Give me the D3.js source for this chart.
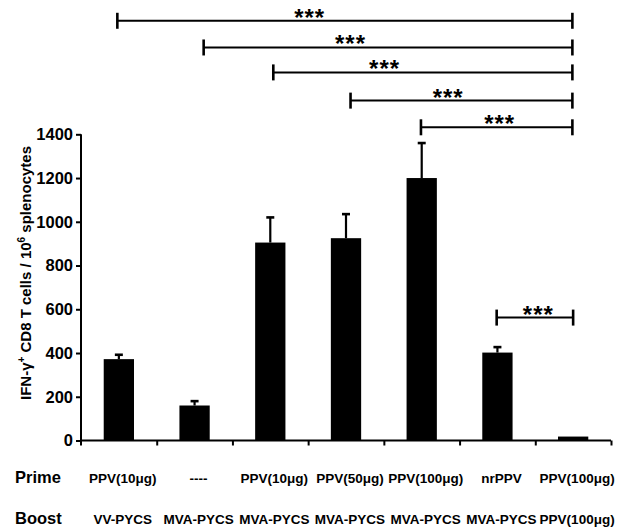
<!DOCTYPE html>
<html>
<head>
<meta charset="utf-8">
<script src="https://cdn.jsdelivr.net/npm/d3@7/dist/d3.min.js"></script>
<style>
  html, body { margin: 0; padding: 0; background: #fff; }
  svg { display: block; font-family: "Liberation Sans", Arial, sans-serif; font-weight: bold; }
</style>
</head>
<body>
<svg id="chart" width="621" height="528"></svg>
<script>
// Prime / boost regimen for each group
const prime = ["PPV(10μg)", "----", "PPV(10μg)", "PPV(50μg)", "PPV(100μg)", "nrPPV", "PPV(100μg)"];
const boost = ["VV-PYCS", "MVA-PYCS", "MVA-PYCS", "MVA-PYCS", "MVA-PYCS", "MVA-PYCS", "PPV(100μg)"];

// IFN-γ+ CD8 T cells per 10^6 splenocytes (mean and SEM)
const means = [372, 160, 905, 925, 1200, 402, 18];
const sem = [20, 20, 115, 110, 160, 25, 0];

const yTicks = [0, 200, 400, 600, 800, 1000, 1200, 1400];

// Significance brackets: start/end in group units (0 = left edge of first group),
// bracket height in y units, and where the stars sit along the bracket
const bracketFrom = [0.48, 1.62, 2.54, 3.56, 4.49, 5.49];
const bracketTo = [6.49, 6.49, 6.49, 6.49, 6.49, 6.5];
const bracketLevel = [1919, 1797, 1683, 1554, 1432, 562];
const bracketStarAt = [3.02, 3.56, 4.01, 4.85, 5.53, 6.04];
const bracketLabel = ["***", "***", "***", "***", "***", "***"];

const svg = d3.select("#chart");
const plotLeft = 81, plotRight = 611, plotTop = 134.3, plotBottom = 440.5;
const groups = d3.range(prime.length);

const x = d3.scaleBand().domain(groups).range([plotLeft, plotRight])
  .paddingInner(0.6).paddingOuter(0.3);
const xPos = d3.scaleLinear().domain([0, groups.length]).range([plotLeft, plotRight]);
const y = d3.scaleLinear().domain([0, 1400]).range([plotBottom, plotTop]);

// Bars
svg.append("g").selectAll("rect").data(groups).join("rect")
  .attr("x", i => x(i))
  .attr("width", x.bandwidth())
  .attr("y", i => y(means[i]))
  .attr("height", i => y(0) - y(means[i]))
  .attr("fill", "#000");

// Upper error bars
const eb = svg.append("g").attr("stroke", "#000").attr("stroke-width", 2.2);
groups.filter(i => sem[i] > 0).forEach(i => {
  const cx = x(i) + x.bandwidth() / 2;
  eb.append("line").attr("x1", cx).attr("x2", cx)
    .attr("y1", y(means[i])).attr("y2", y(means[i] + sem[i]));
  eb.append("line").attr("x1", cx - 4).attr("x2", cx + 4)
    .attr("y1", y(means[i] + sem[i])).attr("y2", y(means[i] + sem[i]))
    .attr("stroke-width", 2.6);
});

// Y axis
const yAxis = svg.append("g").attr("transform", `translate(${plotLeft},0)`)
  .call(d3.axisLeft(y).tickValues(yTicks).tickSize(5).tickPadding(3).tickFormat(d3.format("d")));
yAxis.select(".domain").attr("d", `M0,${plotTop}V${plotBottom + 5}`).attr("stroke-width", 2);
yAxis.selectAll(".tick line").attr("stroke-width", 2);
yAxis.selectAll(".tick text").attr("font-size", 16.5).attr("font-family", "Liberation Sans, Arial, sans-serif")
  .attr("font-weight", "bold").attr("fill", "#000");

// X axis with ticks on group boundaries
const xAxis = svg.append("g").attr("transform", `translate(0,${plotBottom})`)
  .call(d3.axisBottom(xPos).tickValues(d3.range(1, groups.length + 1)).tickSize(5).tickFormat(""));
xAxis.select(".domain").attr("d", `M${plotLeft},0H${plotRight}`).attr("stroke-width", 2);
xAxis.selectAll(".tick line").attr("stroke-width", 2);

// Y axis title
const title = svg.append("text")
  .attr("transform", "translate(31,273) rotate(-90)")
  .attr("text-anchor", "middle")
  .attr("font-size", 15)
  .attr("fill", "#000");
title.append("tspan").text("IFN-γ");
title.append("tspan").attr("font-size", 10).attr("dy", -6).text("+");
title.append("tspan").attr("dy", 6).text(" CD8 T cells / 10");
title.append("tspan").attr("font-size", 10).attr("dy", -6).text("6");
title.append("tspan").attr("dy", 6).text(" splenocytes");

// Regimen rows
const rows = [["Prime", prime, 483], ["Boost", boost, 524]];
rows.forEach(([name, labels, yy]) => {
  svg.append("text").attr("x", 15).attr("y", yy).attr("font-size", 16.5).attr("fill", "#000").text(name);
  svg.append("g").selectAll("text").data(groups).join("text")
    .attr("x", i => x(i) + x.bandwidth() / 2 + 4)
    .attr("y", yy)
    .attr("text-anchor", "middle")
    .attr("font-size", 13.5)
    .attr("fill", "#000")
    .text(i => labels[i]);
});

// Significance brackets
const br = svg.append("g");
bracketFrom.forEach((f, k) => {
  const x1 = xPos(f), x2 = xPos(bracketTo[k]), yy = y(bracketLevel[k]);
  br.append("line").attr("x1", x1).attr("x2", x2).attr("y1", yy).attr("y2", yy)
    .attr("stroke", "#000").attr("stroke-width", 2);
  [x1, x2].forEach(xe => br.append("line").attr("x1", xe).attr("x2", xe)
    .attr("y1", yy - 8).attr("y2", yy + 8).attr("stroke", "#000").attr("stroke-width", 2.6));
  br.append("text").attr("x", xPos(bracketStarAt[k])).attr("y", yy + 5)
    .attr("text-anchor", "middle").attr("font-size", 24).attr("letter-spacing", 1)
    .attr("fill", "#000")
    .text(bracketLabel[k]);
});
</script>
</body>
</html>
